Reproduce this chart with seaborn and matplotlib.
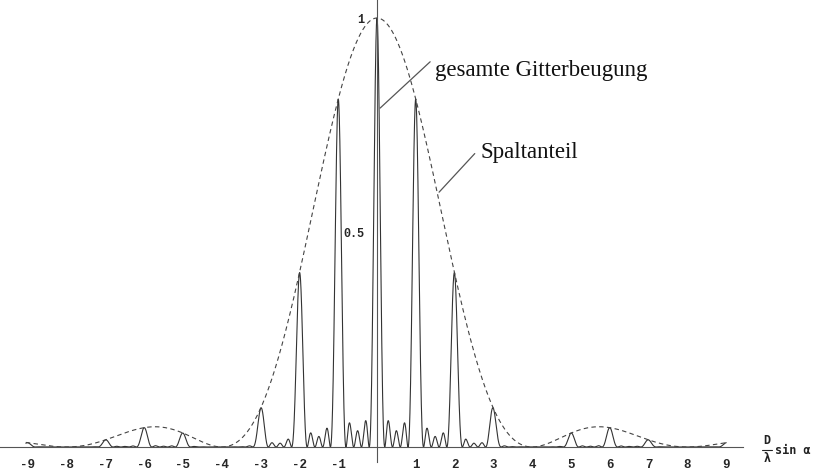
import numpy as np
import pandas as pd
import matplotlib
matplotlib.use("Agg")
import matplotlib.pyplot as plt
from matplotlib.lines import Line2D
import seaborn as sns

# grating parameters
n_slits = 5            # 3 side maxima between main orders -> 5 slits
period_ratio = 4       # orders 4 and 8 are missing -> D/d = 4
x_start, x_end = -9.05, 9.0

xtick_pos = [-9, -8, -7, -6, -5, -4, -3, -2, -1, 1, 2, 3, 4, 5, 6, 7, 8, 9]
xtick_lab = ["-9", "-8", "-7", "-6", "-5", "-4", "-3", "-2", "-1",
             "1", "2", "3", "4", "5", "6", "7", "8", "9"]
ytick_pos = [0.5, 1.0]
ytick_lab = ["0.5", "1"]

labels = ["gesamte Gitterbeugung", "Spaltanteil"]
label_xy = [(1.5, 0.877), (2.66, 0.687)]
leader_from = [(1.37, 0.898), (2.52, 0.684)]
leader_to = [(0.08, 0.79), (1.60, 0.594)]


def intensity(x):
    slit = np.sinc(x / period_ratio) ** 2
    s = np.sin(np.pi * x)
    with np.errstate(divide="ignore", invalid="ignore"):
        grid = (np.sin(n_slits * np.pi * x) / (n_slits * s)) ** 2
    grid = np.where(np.abs(s) < 1e-9, 1.0, grid)
    return slit, slit * grid


xs = np.linspace(x_start, x_end, 12001)
env, total = intensity(xs)
df = pd.DataFrame({"x": xs, "Spaltanteil": env, "gesamt": total})

sns.set_style("white")
fig = plt.figure(figsize=(8.14, 4.72), dpi=100)
ax = fig.add_axes([0, 0, 743 / 814, 1])

sns.lineplot(data=df, x="x", y="gesamt", ax=ax, estimator=None, sort=False,
             color="#333333", linewidth=0.8)
sns.lineplot(data=df, x="x", y="Spaltanteil", ax=ax, estimator=None, sort=False,
             color="#444444", linewidth=0.8, dashes=False)
ax.lines[-1].set_dashes((4, 3))

ax.set_xlim(-9.716, 9.433)
ax.set_ylim(-0.0583, 1.042)
ax.set_xlabel("")
ax.set_ylabel("")

for side in ["top", "right"]:
    ax.spines[side].set_visible(False)
ax.spines["bottom"].set_position(("data", 0))
ax.spines["left"].set_position(("data", 0))
ax.spines["left"].set_bounds(-0.035, 1.042)
for side in ["bottom", "left"]:
    ax.spines[side].set_color("#555555")
    ax.spines[side].set_linewidth(0.8)

ax.set_xticks(xtick_pos)
ax.set_xticklabels(xtick_lab, family="Liberation Mono", weight="bold", fontsize=9)
ax.set_yticks(ytick_pos)
ax.set_yticklabels(ytick_lab, family="Liberation Mono", weight="bold", fontsize=8.5)
ax.tick_params(axis="x", direction="in", length=3.5, width=0.7, color="#555555", pad=9)
ax.tick_params(axis="y", direction="in", length=3.5, width=0.7, color="#555555", pad=9)

for txt, (tx, ty), (fx, fy), (ex, ey) in zip(labels, label_xy, leader_from, leader_to):
    ax.plot([fx, ex], [fy, ey], color="#555555", linewidth=0.9)
    ax.text(tx, ty, txt, family="Liberation Serif", fontsize=16.5,
            ha="left", va="center", color="#111111")

# axis label: D over lambda, then "sin α"
W, H = 814, 472
mono = dict(family="DejaVu Sans Mono", weight="bold", fontsize=8.5, color="#222222")
fig.text(767 / W, 1 - 441 / H, "D", ha="center", va="center", **mono)
fig.text(767 / W, 1 - 459 / H, "λ", ha="center", va="center", **mono)
fig.add_artist(Line2D([762 / W, 772 / W], [1 - 450 / H, 1 - 450 / H],
                      color="#222222", linewidth=0.8))
fig.text(775 / W, 1 - 451 / H, "sin α", ha="left", va="center", **mono)

fig.savefig("out.png", dpi=100)
